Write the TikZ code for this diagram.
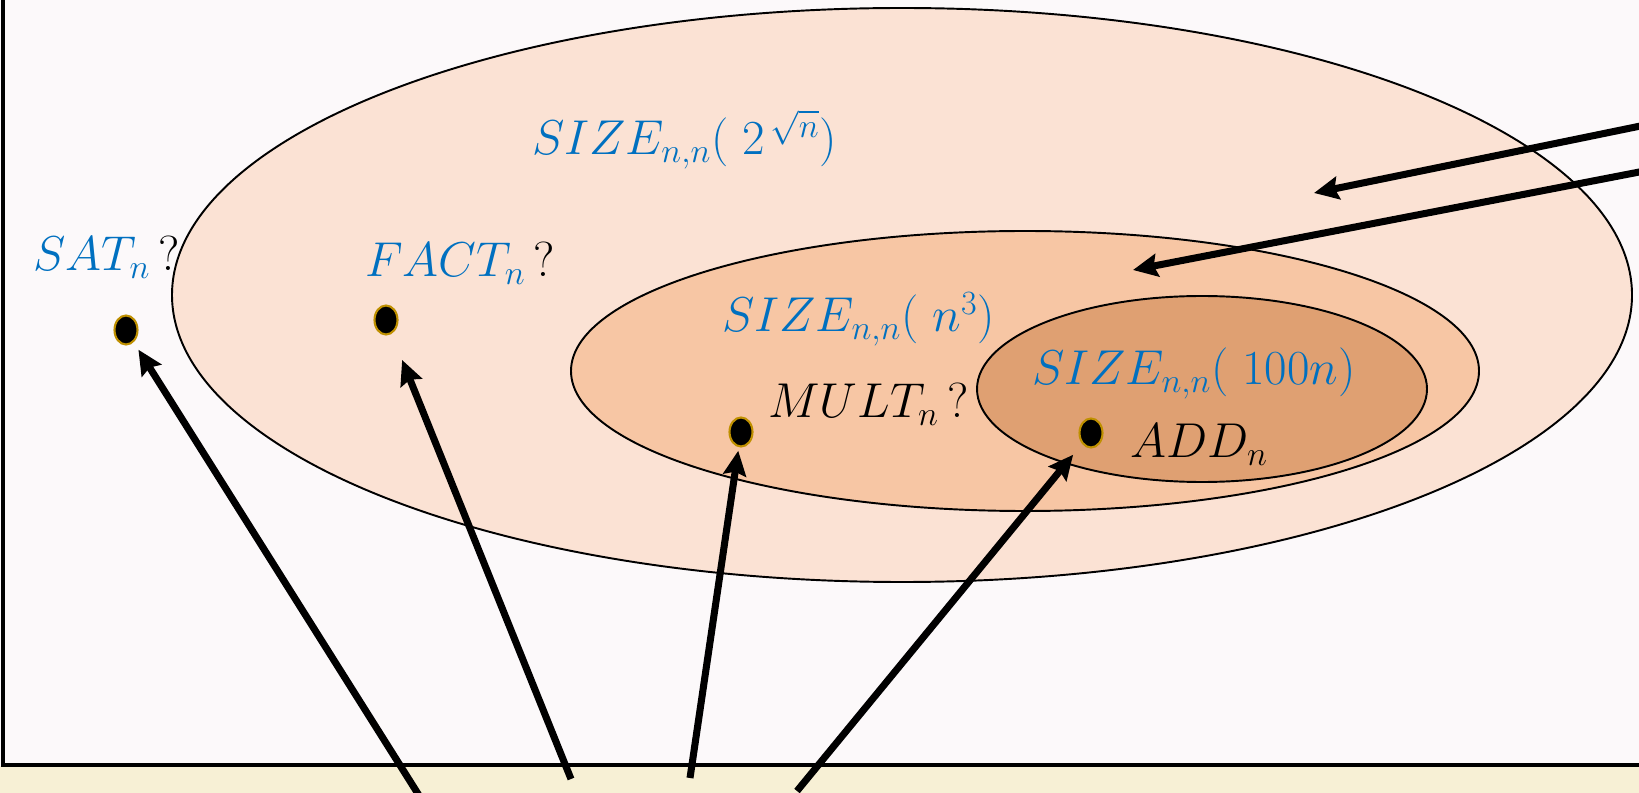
\documentclass[tikz,border=0pt]{standalone}
\usepackage{amsmath,amssymb}
\usepackage{graphicx}
\usepackage{tikz}
\usetikzlibrary{arrows.meta,calc,positioning,shapes.geometric}
\definecolor{bgwhite}{HTML}{FCF9FA}
\definecolor{creamband}{HTML}{F7F0D5}
\definecolor{peachA}{HTML}{FBE2D4}
\definecolor{peachB}{HTML}{F7C6A4}
\definecolor{peachC}{HTML}{DFA072}
\definecolor{classblue}{HTML}{0070C0}
\definecolor{dotrim}{HTML}{BF9000}
\newcommand{\classregion}[4]{\draw[line width=1.1pt,fill=#4] #1 ellipse (#2 and #3);}
\newcommand{\bigtxt}[1]{\scalebox{1.12}{#1}}

\begin{document}
\begin{tikzpicture}[x=0.02cm,y=-0.02cm,>={Stealth[length=14pt,width=13pt,inset=2pt]},
  lbl/.style={anchor=base west,inner sep=0pt,font=\fontsize{25}{30}\selectfont},
  cls/.style={lbl,text=classblue},
  probdot/.style={ellipse,fill=black,draw=dotrim,line width=1.2pt,minimum width=0.46cm,minimum height=0.58cm,inner sep=0pt},
  ptr/.style={->,line width=4pt}]
\clip (0,0) rectangle (1639,793);
\fill[bgwhite] (0,0) rectangle (1639,766);
\fill[creamband] (0,766) rectangle (1639,793);
\draw[line width=1.8pt] (3,-5) -- (3,765) -- (1645,765);
% nested classes
\classregion{(902,295)}{730}{287}{peachA}
\classregion{(1025,371)}{454}{140}{peachB}
\classregion{(1202,389)}{225}{93}{peachC}
% labels
\node[cls] (bigLbl) at (532,155) {\bigtxt{$SIZE_{n,n}(\;2^{\,\sqrt{n}})$}};
\node[cls] (midLbl) at (722,332) {\bigtxt{$SIZE_{n,n}(\;n^3)$}};
\node[cls] (smlLbl) at (1032,385) {\bigtxt{$SIZE_{n,n}(\;100n)$}};
\node[cls] (satLbl) at (33,271) {\bigtxt{$SAT_n$\,\textcolor{black}{?}}};
\node[cls] (factLbl) at (365,277) {\bigtxt{$FACT_n$\,\textcolor{black}{?}}};
\node[lbl] (multLbl) at (768,418) {\bigtxt{$MULT_n$\,?}};
\node[lbl] (addLbl) at (1130,458) {\bigtxt{$ADD_n$}};
% problems
\node[probdot] (sat) at (126,330) {};
\node[probdot] (fact) at (386,320) {};
\node[probdot] (mult) at (741,432) {};
\node[probdot] (add) at (1091,433) {};
% pointers
\coordinate (tSat) at (420,797);
\coordinate (tFact) at (571,779);
\coordinate (tMult) at (690,778);
\coordinate (tAdd) at (797,791);
\coordinate (rtA) at (1660,122);
\coordinate (rtB) at (1660,168);
\coordinate (hdA) at (1314,193);
\coordinate (hdB) at (1133,270);
\draw[ptr,shorten >=5pt] (tSat) -- (sat);
\draw[ptr,shorten >=16pt] (tFact) -- (fact);
\draw[ptr,shorten >=2pt] (tMult) -- (mult);
\draw[ptr,shorten >=8pt] (tAdd) -- (add);
\draw[ptr] (rtA) -- (hdA);
\draw[ptr] (rtB) -- (hdB);
\end{tikzpicture}
\end{document}
